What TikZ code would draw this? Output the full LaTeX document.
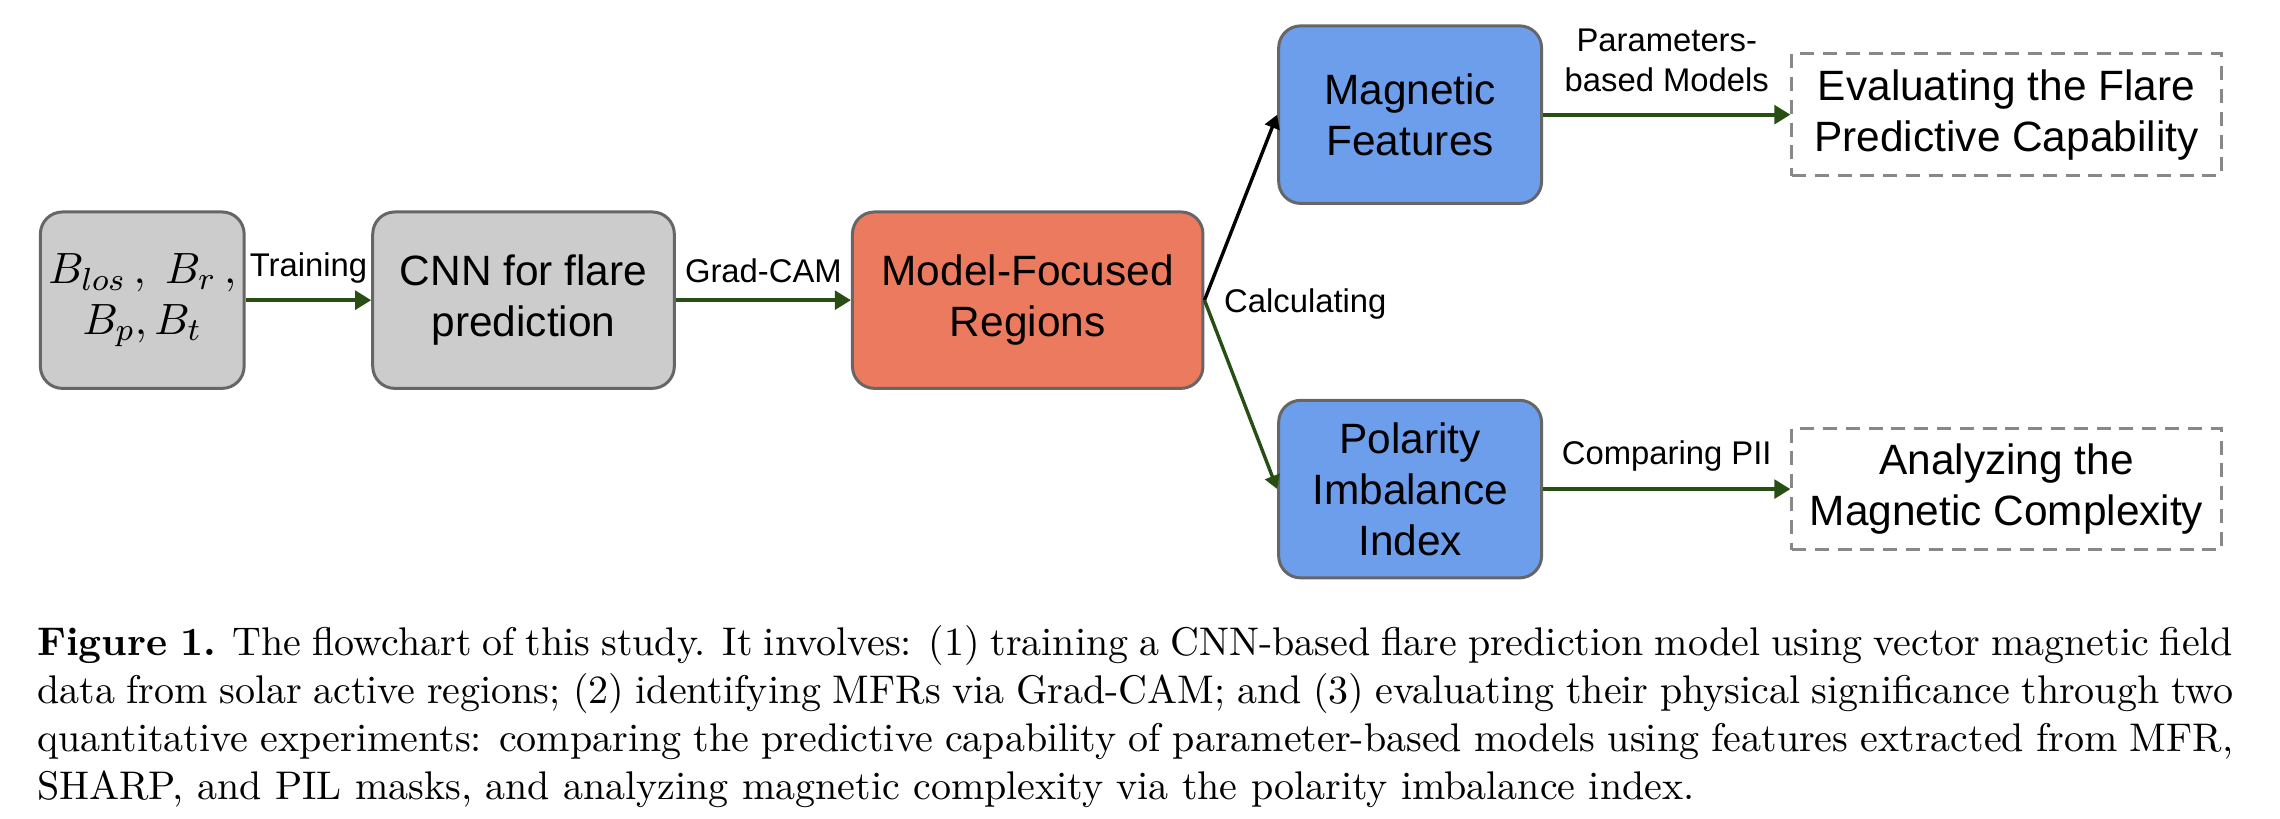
\documentclass[tikz,border=0pt]{standalone}
\usepackage{fontspec}
\setsansfont{Liberation Sans}
\usepackage{tikz}
\usetikzlibrary{arrows.meta}

\definecolor{BoxGrey}{HTML}{CCCCCC}
\definecolor{BoxEdge}{HTML}{666666}
\definecolor{FocusOrange}{HTML}{EB7A5E}
\definecolor{FeatBlue}{HTML}{6D9EEB}
\definecolor{FlowGreen}{HTML}{274E13}
\definecolor{DashGrey}{HTML}{888888}

\begin{document}
\begin{tikzpicture}
			\tikzstyle{Box}		= [rectangle, rounded corners=5.5pt, draw=BoxEdge, line width=0.75pt, align=center, inner sep=0pt, minimum height=1.55cm, font=\sffamily\fontsize{10.6}{12.7}\selectfont]
			\tikzstyle{Input}	= [fill=BoxGrey]
			\tikzstyle{Focus}	= [fill=FocusOrange]
			\tikzstyle{Study}	= [fill=FeatBlue, minimum width=2.31cm, minimum height=1.56cm]
			\tikzstyle{Goal}	= [rectangle, draw=DashGrey, line width=0.75pt, dash pattern=on 3.5pt off 2.2pt, align=center, inner sep=0pt, minimum width=3.77cm, minimum height=1.07cm, font=\sffamily\fontsize{10.6}{12.7}\selectfont]
			\tikzstyle{Flow}	= [line width=1pt, FlowGreen, -{Triangle[length=4pt,width=4.6pt]}]
			\tikzstyle{Split}	= [line width=0.85pt, -{Triangle[length=3.4pt,width=3.8pt]}]
			\tikzstyle{Tag}		= [font=\sffamily\fontsize{8.2}{9.8}\selectfont, align=center, text=black]

			\useasboundingbox (0,0) rectangle (570pt,204.5pt);

			\node (bfield) at (1.25, 4.55) [Box][Input][minimum width=1.79cm, font=\sffamily\fontsize{11}{12.7}\selectfont] {$B_{los}\,,\ B_r\,,$\\$B_p, B_t$};
			\node (cnn) at (4.60, 4.55) [Box][Input][minimum width=2.65cm] {CNN for flare\\prediction};
			\node (mfr) at (9.03, 4.55) [Box][Focus][minimum width=3.08cm] {Model-Focused\\Regions};
			\node (feat) at (12.39, 6.18) [Box][Study] {Magnetic\\Features};
			\node (pii) at (12.39, 2.89) [Box][Study] {Polarity\\Imbalance\\Index};
			\node (evalflare) at (17.63, 6.18) [Goal] {Evaluating the Flare\\Predictive Capability};
			\node (complexity) at (17.63, 2.89) [Goal] {Analyzing the\\Magnetic Complexity};

			\foreach \a/\b/\t in {bfield/cnn/Training, cnn/mfr/Grad-CAM, pii/complexity/Comparing PII}
				\draw [Flow] (\a) to node [Tag, above=0.5pt] {\t} (\b);
			\draw [Flow] (feat) to node [Tag, above=2pt] {Parameters-\\based Models} (evalflare);

			\draw [Split] (mfr.east) to (feat.west);
			\draw [Split][FlowGreen] (mfr.east) to (pii.west);
			\node (calc) at (mfr.east) [Tag, anchor=west, xshift=1.4pt, yshift=-1pt] {Calculating};

			\node (caption) at (0.32, 1.70) [anchor=north west, inner sep=0pt, text width=549pt, align=justify, font=\normalsize] {\textbf{Figure 1.} The flowchart of this study. It involves: (1) training a CNN-based flare prediction model using vector magnetic field\linebreak data from solar active regions; (2) identifying MFRs via Grad-CAM; and (3) evaluating their physical significance through two\linebreak quantitative experiments: comparing the predictive capability of parameter-based models using features extracted from MFR,\linebreak SHARP, and PIL masks, and analyzing magnetic complexity via the polarity imbalance index.};
		\end{tikzpicture}
\end{document}
